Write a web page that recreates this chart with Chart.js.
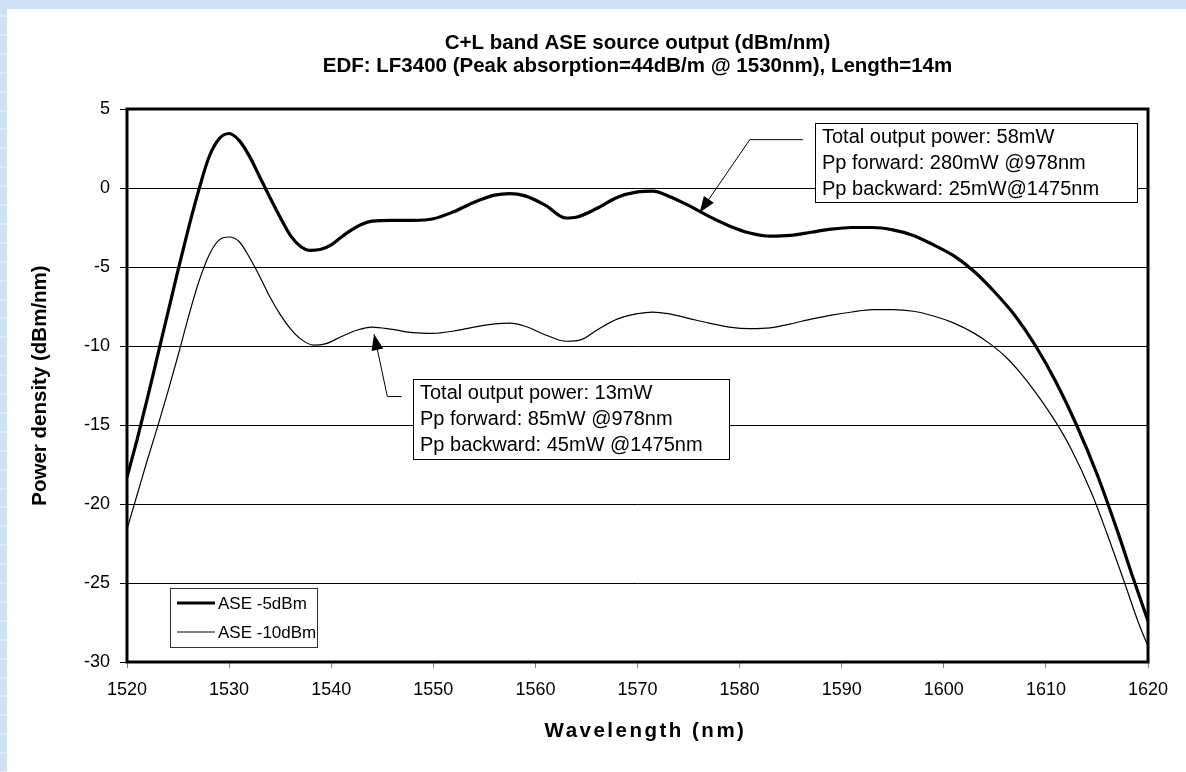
<!DOCTYPE html>
<html>
<head>
<meta charset="utf-8">
<title>C+L band ASE source output</title>
<script src="https://cdn.jsdelivr.net/npm/chart.js@4.4.1/dist/chart.umd.min.js"></script>
<style>
    html, body { margin: 0; padding: 0; }
    body {
        width: 1186px;
        height: 772px;
        overflow: hidden;
        background-color: #cfe2f3;
        background-image: repeating-linear-gradient(to bottom, transparent 0, transparent 15px, #e2ecf8 15px, #e2ecf8 17px, transparent 17px, transparent 18.9px);
    }
    #wrap { position: absolute; left: 7px; top: 9px; width: 1179px; height: 763px; background: #fff; }
</style>
</head>
<body>
<div id="wrap"><canvas id="aseChart" width="1179" height="763"></canvas></div>
<script>
const FONT = '"Liberation Sans", Arial, sans-serif';

const titleLines = [
    'C+L band ASE source output (dBm/nm)',
    'EDF: LF3400 (Peak absorption=44dB/m @ 1530nm), Length=14m'
];
const xTitle = 'Wavelength (nm)';
const yTitle = 'Power density (dBm/nm)';
const seriesLabels = ['ASE -5dBm', 'ASE -10dBm'];

// ASE -5dBm (thick curve)
const wavelength5 = [1520, 1521, 1522, 1523, 1524, 1525, 1526, 1527, 1528, 1529, 1530,
    1531, 1532, 1533, 1534, 1535, 1536, 1537, 1538, 1539, 1540,
    1541, 1542, 1543, 1544, 1546, 1548, 1550, 1552, 1554, 1556, 1557.5, 1559,
    1561, 1563, 1564, 1566, 1568, 1570, 1571.5, 1573, 1575, 1577,
    1579, 1581, 1583, 1585, 1587, 1589, 1591, 1593, 1595, 1597,
    1599, 1601, 1603, 1605, 1607, 1609, 1611, 1613, 1615, 1617,
    1618.6, 1620];
const power5 = [-18.3, -15.9, -13.3, -10.6, -7.9, -5.2, -2.6, -0.2, 1.9, 3.1, 3.45,
    3.0, 2.0, 0.7, -0.6, -1.85, -3.0, -3.7, -3.95, -3.88, -3.6,
    -3.1, -2.65, -2.3, -2.1, -2.05, -2.05, -1.95, -1.5, -0.9, -0.45, -0.35, -0.5,
    -1.1, -1.9, -1.85, -1.3, -0.6, -0.25, -0.2, -0.5, -1.1, -1.8,
    -2.4, -2.85, -3.05, -3.0, -2.8, -2.6, -2.5, -2.5, -2.65, -3.0,
    -3.6, -4.3, -5.3, -6.6, -8.1, -10.0, -12.3, -15.0, -18.1, -21.7,
    -24.8, -27.4];

// ASE -10dBm (thin curve)
const wavelength10 = [1520, 1521, 1522, 1523, 1524, 1525, 1526, 1527, 1528, 1529, 1530,
    1531, 1532, 1533, 1534, 1535, 1536, 1537, 1538.3, 1539.5,
    1541, 1542.5, 1544, 1546, 1548, 1550, 1552, 1554, 1556, 1557.5, 1559,
    1561, 1563, 1564.5, 1566, 1568, 1570, 1571.5, 1573, 1575, 1577,
    1579, 1581, 1583, 1585, 1587, 1589, 1591, 1593, 1595, 1597,
    1599, 1601, 1603, 1604.5, 1606, 1607.5, 1609, 1611, 1612.5, 1614.5,
    1616, 1617.5, 1619, 1620];
const power10 = [-21.6, -19.4, -17.2, -15.1, -12.9, -10.6, -8.2, -6.0, -4.3, -3.3, -3.1,
    -3.4, -4.4, -5.6, -6.9, -8.0, -8.9, -9.55, -9.95, -9.85,
    -9.4, -9.0, -8.8, -8.95, -9.15, -9.2, -9.05, -8.8, -8.6, -8.55, -8.75,
    -9.3, -9.7, -9.6, -9.0, -8.3, -7.95, -7.85, -7.95, -8.25, -8.55,
    -8.8, -8.9, -8.85, -8.6, -8.3, -8.05, -7.85, -7.7, -7.7, -7.8,
    -8.1, -8.55, -9.2, -9.85, -10.65, -11.7, -12.95, -14.85, -16.55, -19.35,
    -21.9, -24.6, -27.4, -29.0];

const note5Lines = ['Total output power: 58mW', 'Pp forward: 280mW @978nm', 'Pp backward: 25mW@1475nm'];
const note10Lines = ['Total output power: 13mW', 'Pp forward: 85mW @978nm', 'Pp backward: 45mW @1475nm'];

// callouts: box corner and leader path in data units, box size in px
const callouts = [
    { lines: note5Lines, box: [1587.4, 4.13], size: [322, 79], path: [[1586.2, 3.06], [1581.0, 3.06], [1576.1, -1.55]] },
    { lines: note10Lines, box: [1548.0, -12.09], size: [316, 80], path: [[1546.9, -13.2], [1545.5, -13.2], [1544.2, -9.25]] }
];

const toPoints = (xs, ys) => xs.map((x, i) => ({ x, y: ys[i] }));

const drawArrowHead = (ctx, from, to) => {
    const ang = Math.atan2(to[1] - from[1], to[0] - from[0]);
    const len = 16, half = 6;
    ctx.beginPath();
    ctx.moveTo(to[0], to[1]);
    ctx.lineTo(to[0] - len * Math.cos(ang) + half * Math.sin(ang), to[1] - len * Math.sin(ang) - half * Math.cos(ang));
    ctx.lineTo(to[0] - len * Math.cos(ang) - half * Math.sin(ang), to[1] - len * Math.sin(ang) + half * Math.cos(ang));
    ctx.closePath();
    ctx.fill();
};

const plotDecor = {
    id: 'plotDecor',
    afterDatasetsDraw(chart) {
        const { ctx, chartArea: a, scales } = chart;
        const px = (p) => [scales.x.getPixelForValue(p[0]), scales.y.getPixelForValue(p[1])];
        ctx.save();

        // frame round the plot area
        ctx.strokeStyle = '#000';
        ctx.lineWidth = 3;
        ctx.strokeRect(a.left, a.top, a.right - a.left, a.bottom - a.top);

        // callout boxes with leader arrows
        callouts.forEach((c) => {
            const [bx, by] = px(c.box).map(Math.round);
            ctx.fillStyle = '#fff';
            ctx.fillRect(bx, by, c.size[0], c.size[1]);
            ctx.strokeStyle = '#000';
            ctx.lineWidth = 1;
            ctx.strokeRect(bx + 0.5, by + 0.5, c.size[0], c.size[1]);
            ctx.fillStyle = '#000';
            ctx.font = '20px ' + FONT;
            ctx.textBaseline = 'alphabetic';
            c.lines.forEach((t, i) => ctx.fillText(t, bx + 7, by + 20 + i * 26));

            const pts = c.path.map(px);
            ctx.beginPath();
            pts.forEach((p, i) => (i ? ctx.lineTo(p[0], p[1]) : ctx.moveTo(p[0], p[1])));
            ctx.stroke();
            drawArrowHead(ctx, pts[pts.length - 2], pts[pts.length - 1]);
        });

        // legend inset at lower left
        const lx = a.left + 43, ly = a.bottom - 74;
        ctx.fillStyle = '#fff';
        ctx.fillRect(lx, ly, 147, 59);
        ctx.strokeStyle = '#333';
        ctx.lineWidth = 1;
        ctx.strokeRect(lx + 0.5, ly + 0.5, 147, 59);
        ctx.font = '17px ' + FONT;
        ctx.textBaseline = 'middle';
        chart.data.datasets.forEach((ds, i) => {
            const y = ly + 15 + i * 29;
            ctx.strokeStyle = '#000';
            ctx.lineWidth = ds.borderWidth;
            ctx.beginPath();
            ctx.moveTo(lx + 7, y);
            ctx.lineTo(lx + 45, y);
            ctx.stroke();
            ctx.fillStyle = '#000';
            ctx.fillText(ds.label, lx + 48, y + 1);
        });

        // x axis title, spaced out as in the original
        ctx.font = 'bold 20.5px ' + FONT;
        ctx.textAlign = 'center';
        ctx.textBaseline = 'middle';
        if ('letterSpacing' in ctx) ctx.letterSpacing = '2.5px';
        ctx.fillText(xTitle, (a.left + a.right) / 2 + 8, a.bottom + 69);
        ctx.restore();
    }
};

new Chart(document.getElementById('aseChart'), {
    type: 'line',
    data: {
        datasets: [
            { label: seriesLabels[0], data: toPoints(wavelength5, power5), borderColor: '#000', borderWidth: 3.2, cubicInterpolationMode: 'monotone', pointRadius: 0 },
            { label: seriesLabels[1], data: toPoints(wavelength10, power10), borderColor: '#000', borderWidth: 1.2, cubicInterpolationMode: 'monotone', pointRadius: 0 }
        ]
    },
    options: {
        responsive: false,
        animation: false,
        layout: { padding: { top: 0, right: 38, bottom: 0, left: 0 } },
        plugins: {
            legend: { display: false },
            tooltip: { enabled: false },
            title: {
                display: true,
                fullSize: false,
                text: titleLines,
                color: '#000',
                font: { family: FONT, size: 20.5, weight: 'bold', lineHeight: '23px' },
                padding: { top: 22.5, bottom: 31.5 }
            }
        },
        scales: {
            x: {
                type: 'linear',
                min: 1520,
                max: 1620,
                afterFit: (s) => { s.height = 110; },
                ticks: { stepSize: 10, color: '#000', font: { family: FONT, size: 18 }, padding: 11, callback: (v) => String(v) },
                grid: { drawOnChartArea: false, tickLength: 6, tickColor: '#808080' },
                border: { display: false }
            },
            y: {
                min: -30,
                max: 5,
                afterFit: (s) => { s.width = 120; },
                ticks: { stepSize: 5, color: '#000', font: { family: FONT, size: 18 }, padding: 10 },
                grid: { color: '#000', lineWidth: 1, tickLength: 7, tickColor: '#000' },
                border: { display: false },
                title: { display: true, text: yTitle, color: '#000', font: { family: FONT, size: 20.5, weight: 'bold' }, padding: { top: 21 } }
            }
        }
    },
    plugins: [plotDecor]
});
</script>
</body>
</html>
